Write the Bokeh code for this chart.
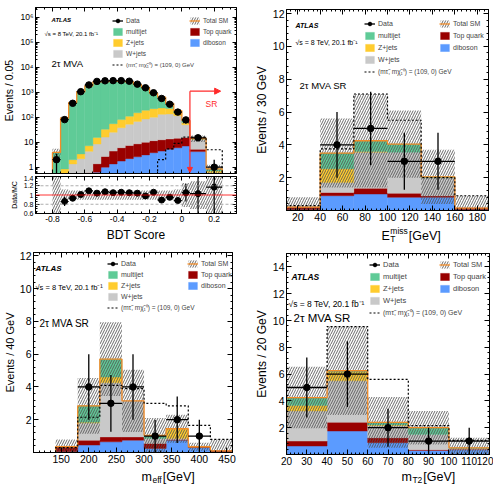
import numpy as np
from bokeh.plotting import figure
from bokeh.layouts import row, column
from bokeh.models import (FixedTicker, LinearAxis, LogAxis, Range1d, Legend,
                          LegendItem, Label, Arrow, NormalHead,
                          CustomJSTickFormatter, Span)
from bokeh.embed import file_html
from bokeh.resources import INLINE

FONT = "Liberation Sans"

# ======================= DATA =======================
# ---- panel 1: BDT score (2tau MVA) ----
bdt_edges = [-0.80, -0.75, -0.70, -0.65, -0.60, -0.55, -0.50, -0.45, -0.40, -0.35,
             -0.30, -0.25, -0.20, -0.15, -0.10, -0.05, 0.00, 0.05, 0.15, 0.25]
bdt_data = [2, 80, 360, 1050, 1950, 2700, 2850, 2900, 2900, 2750,
            2100, 1500, 950, 560, 330, 160, 78, 15, 1]
bdt_diboson = [0.005, 0.01, 0.05, 0.1, 0.25, 0.63, 1.0, 1.35, 1.75, 2.2,
               2.6, 3.1, 3.8, 4.4, 5.2, 6.0, 7.0, 4.2, 0.3]
bdt_top = [0.005, 0.02, 0.05, 0.2, 0.35, 0.74, 1.7, 3.05, 4.25, 5.2,
           6.0, 6.9, 7.7, 8.1, 8.3, 8.5, 8.5, 1.0, 0.15]
bdt_wjets = [0.04, 0.37, 1.25, 1.9, 3.7, 7.1, 13.3, 20.6, 32.0, 44.6,
             59.4, 75.0, 88.5, 117.5, 121.5, 100.5, 34.5, 7.8, 0.15]
bdt_zjets = [0.05, 0.45, 0.65, 1.2, 2.9, 7.0, 17.0, 30.0, 42.0, 58.0,
             82.0, 105.0, 120.0, 105.0, 90.0, 35.0, 12.0, 0.8, 0.1]
bdt_multijet = [3.8, 92, 381, 1037, 1783, 2584, 2627, 2705, 2660, 2510,
                1870, 1340, 680, 395, 125, 32, 12, 0.6, 0.16]
bdt_unc_rel = [0.40, 0.12, 0.10, 0.10, 0.10, 0.10, 0.10, 0.10, 0.10, 0.10,
               0.10, 0.10, 0.10, 0.10, 0.10, 0.12, 0.26, 0.30, 0.45]
bdt_signal = [0.05, 0.05, 0.05, 0.05, 0.05, 0.05, 0.05, 0.05, 0.05, 0.05,
              0.05, 0.05, 0.3, 2.0, 5.4, 9.0, 16.0, 16.0, 5.0]
bdt_ratio = [float("nan"), 0.86, 0.93, 1.01, 1.09, 1.04, 1.07, 1.05, 1.06, 1.05,
             1.04, 0.98, 1.06, 0.89, 0.95, 0.88, 1.05, 1.03, 1.17]
bdt_ratio_err = [float("nan"), 0.10, 0.06, 0.03, 0.03, 0.02, 0.02, 0.02, 0.02, 0.02,
                 0.02, 0.03, 0.03, 0.04, 0.05, 0.07, 0.19, 0.45, 1.0]
sr_cut = 0.05

# ---- panel 2: missing ET ----
met_edges = [10, 40, 70, 100, 130, 160, 190]
met_data = [0, 4, 5, 3, 3, 0]
met_diboson = [0.05, 0.9, 1.0, 0.8, 0.8, 0.05]
met_top = [0.15, 0.2, 0.35, 0.25, 0.1, 0.1]
met_wjets = [0.0, 0.6, 2.2, 2.5, 1.1, 0.0]
met_zjets = [0.0, 0.85, 0.05, 0.0, 0.0, 0.0]
met_multijet = [0.0, 0.95, 0.65, 0.5, 0.05, 0.0]
met_unc = [0.6, 2.1, 2.85, 2.05, 1.65, 0.75]
met_signal = [0.3, 3.75, 7.1, 5.5, 2.0, 0.9]

# ---- panel 3: m_eff ----
meff_edges = [140, 180, 220, 260, 300, 340, 380, 420, 460]
meff_data = [0, 4, 3, 4, 1, 2, 1, 0]
meff_diboson = [0.05, 0.45, 0.65, 0.75, 0.25, 0.75, 0.3, 0.05]
meff_top = [0.3, 0.3, 0.3, 0.2, 0.3, 0.05, 0.05, 0.05]
meff_wjets = [0.0, 1.05, 3.3, 2.2, 0.3, 0.05, 0.0, 0.0]
meff_zjets = [0.0, 0.05, 0.35, 0.0, 0.0, 0.6, 0.0, 0.0]
meff_multijet = [0.0, 1.0, 1.1, 0.0, 0.2, 0.0, 0.0, 0.0]
meff_unc = [0.45, 1.7, 2.25, 1.9, 1.05, 0.85, 0.25, 0.7]
meff_signal = [0.3, 2.15, 4.1, 3.9, 3.0, 2.85, 1.65, 0.8]

# ---- panel 4: m_T2 ----
mt2_edges = [20, 40, 60, 80, 100, 120]
mt2_data = [5, 6, 2, 1, 1]
mt2_diboson = [0.63, 1.75, 0.88, 0.3, 0.35]
mt2_top = [0.37, 0.65, 0.37, 0.05, 0.05]
mt2_wjets = [2.25, 3.1, 0.9, 1.15, 0.05]
mt2_zjets = [0.4, 0.65, 0.05, 0.0, 0.0]
mt2_multijet = [0.6, 0.1, 0.2, 0.5, 0.05]
mt2_unc = [2.3, 3.3, 1.9, 1.25, 0.75]
mt2_signal = [5.0, 9.55, 5.6, 2.15, 1.05]

# ---- ticks ----
bdt_ticks = [-0.8, -0.6, -0.4, -0.2, 0.0, 0.2]
bdt_tick_labels = ["-0.8", "-0.6", "-0.4", "-0.2", "0", "0.2"]
log_ticks = [1, 10, 100, 1e3, 1e4, 1e5, 1e6]
log_tick_labels = ["1", "10", "10\u00b2", "10\u00b3", "10\u2074", "10\u2075", "10\u2076"]
ratio_ticks = [0.6, 0.8, 1.0, 1.2, 1.4]
ratio_tick_labels = ["0.6", "0.8", "1", "1.2", "1.4"]
met_ticks = [20, 40, 60, 80, 100, 120, 140, 160, 180]
meff_ticks = [150, 200, 250, 300, 350, 400, 450]
mt2_ticks = [20, 30, 40, 50, 60, 70, 80, 90, 100, 110, 120]
y12_ticks = [2, 4, 6, 8, 10, 12]
y14_ticks = [2, 4, 6, 8, 10, 12, 14]

# ======================= STYLE =======================
STACK = ["diboson", "top", "wjets", "zjets", "multijet"]
COLORS = {"multijet": "#5FCB97", "zjets": "#FFCC2E", "wjets": "#C9C9C9",
          "top": "#990000", "diboson": "#5B9BFF"}
ORANGE = "#F28C28"
HATCH = "#505050"
RED = "#FF2A2A"
SIG_LABEL = "(m\u03c4\u0303, m\u03c7\u0303\u2081\u2070) = (109, 0) GeV"


def fmt(vals, labels):
    return CustomJSTickFormatter(args=dict(tv=list(vals), tl=list(labels)), code="""
        for (let i = 0; i < tv.length; i++) {
            if (Math.abs(tick - tv[i]) <= 1e-9 * Math.max(1, Math.abs(tv[i]))) return tl[i];
        }
        return '';""")


def minor(lo, hi, step, majors):
    vals = np.arange(lo, hi + step / 2, step)
    return [float(round(v, 6)) for v in vals if all(abs(v - m) > step / 10 for m in majors)]


def style_axis(ax, tl, px, show):
    ax.major_tick_in = tl
    ax.major_tick_out = 0
    ax.minor_tick_in = max(1, tl // 2)
    ax.minor_tick_out = 0
    ax.axis_line_color = "black"
    ax.major_tick_line_color = "black"
    ax.minor_tick_line_color = "black"
    if show:
        ax.major_label_text_font = FONT
        ax.major_label_text_font_size = f"{px}px"
        ax.major_label_text_color = "black"
        ax.major_label_standoff = 2
    else:
        ax.major_label_text_font_size = "0px"
        ax.major_label_standoff = 0
        ax.formatter = CustomJSTickFormatter(code="return '';")


def setup_axes(p, xt, xm, yt, ym, xfmt=None, yfmt=None, show_x=True, show_y=True,
               log_y=False, tl=5, xpx=10.5, ypx=10.5):
    ax = p.below[0]
    ax.ticker = FixedTicker(ticks=list(xt), minor_ticks=list(xm))
    style_axis(ax, tl, xpx, show_x)
    if show_x and xfmt is not None:
        ax.formatter = xfmt
    ay = p.left[0]
    ay.ticker = FixedTicker(ticks=list(yt), minor_ticks=list(ym))
    style_axis(ay, tl, ypx, show_y)
    if show_y and yfmt is not None:
        ay.formatter = yfmt
    top = LinearAxis(ticker=FixedTicker(ticks=list(xt), minor_ticks=list(xm)))
    style_axis(top, tl, 0, False)
    p.add_layout(top, "above")
    right = (LogAxis if log_y else LinearAxis)(ticker=FixedTicker(ticks=list(yt), minor_ticks=list(ym)))
    style_axis(right, tl, 0, False)
    p.add_layout(right, "right")


def ylabel(p, text, px, standoff=2):
    ay = p.left[0]
    ay.axis_label = text
    ay.axis_label_text_font = FONT
    ay.axis_label_text_font_size = f"{px}px"
    ay.axis_label_text_font_style = "normal"
    ay.axis_label_text_color = "black"
    ay.axis_label_standoff = standoff


def make_fig(w, h, xr, yr, ml, mr, mt, mb, log=False):
    p = figure(width=w, height=h, x_range=xr, y_range=yr,
               y_axis_type="log" if log else "linear",
               output_backend="svg", toolbar_location=None,
               min_border_left=ml, min_border_right=mr,
               min_border_top=mt, min_border_bottom=mb)
    p.xgrid.visible = False
    p.ygrid.visible = False
    p.outline_line_color = "black"
    p.outline_line_width = 1
    p.outline_line_alpha = 1
    p.background_fill_color = "white"
    p.border_fill_color = "white"
    return p


def make_strip(w, h):
    s = figure(width=w, height=h, x_range=Range1d(0, w), y_range=Range1d(0, h),
               output_backend="svg", toolbar_location=None,
               x_axis_location=None, y_axis_location=None,
               min_border_left=0, min_border_right=0, min_border_top=0, min_border_bottom=0)
    s.xgrid.visible = False
    s.ygrid.visible = False
    s.outline_line_color = None
    s.background_fill_color = "white"
    s.border_fill_color = "white"
    return s


def step(edges, vals, base):
    xs, ys = [edges[0]], [base]
    for i, v in enumerate(vals):
        xs += [edges[i], edges[i + 1]]
        ys += [v, v]
    xs.append(edges[-1])
    ys.append(base)
    return xs, ys


def draw_hist(p, edges, comps, unc_abs, data, signal, base):
    e = np.asarray(edges, float)
    lefts, rights = e[:-1], e[1:]
    centers = 0.5 * (lefts + rights)
    cum = np.full(len(lefts), base)
    rend = {}
    for name in STACK:
        vals = np.asarray(comps[name], float)
        top = cum + vals
        m = vals > 0
        rend[name] = p.quad(left=lefts[m], right=rights[m], bottom=cum[m], top=top[m],
                            fill_color=COLORS[name], line_color=COLORS[name], line_width=0.4)
        cum = top
    total = cum
    unc = np.asarray(unc_abs, float)
    lo = np.maximum(total - unc, base)
    hi = total + unc
    rend["band"] = p.quad(left=lefts, right=rights, bottom=lo, top=hi,
                          fill_color=None, line_color=None, hatch_pattern="/",
                          hatch_color=HATCH, hatch_scale=5, hatch_weight=0.85)
    xs, ys = step(list(e), list(total), base)
    rend["total"] = p.line(xs, ys, line_color=ORANGE, line_width=1.3)
    sx, sy = step(list(e), list(signal), base)
    rend["signal"] = p.line(sx, sy, line_color="black", line_width=1.2, line_dash="2 2")
    d = np.asarray(data, float)
    m = d > 0
    err = np.sqrt(d)
    dlo = np.maximum(d - err, base)
    dhi = d + err
    rend["dx"] = p.segment(x0=lefts[m], x1=rights[m], y0=d[m], y1=d[m],
                           line_color="black", line_width=1.3)
    rend["dy"] = p.segment(x0=centers[m], x1=centers[m], y0=dlo[m], y1=dhi[m],
                           line_color="black", line_width=1.3)
    rend["dp"] = p.scatter(centers[m], d[m], size=6.5, color="black")
    return rend


def add_legends(p, frame_h, r, x1, x2, row1, sp, fs, gh=9, gw=11):
    pitch = gh + sp
    top = row1 - gh / 2

    def mk(items, x, top_off, size):
        n = len(items)
        h = n * gh + (n - 1) * sp
        lg = Legend(items=items, location=(x, frame_h - top_off - h), orientation="vertical",
                    glyph_width=gw, glyph_height=gh, label_height=gh, label_width=5,
                    label_standoff=3, spacing=sp, padding=0, margin=0,
                    border_line_color=None, background_fill_alpha=0,
                    label_text_font=FONT, label_text_font_size=f"{size}px")
        p.add_layout(lg)

    mk([LegendItem(label="Data", renderers=[r["dx"], r["dp"]]),
        LegendItem(label="multijet", renderers=[r["multijet"]]),
        LegendItem(label="Z+jets", renderers=[r["zjets"]]),
        LegendItem(label="W+jets", renderers=[r["wjets"]])], x1, top, fs)
    mk([LegendItem(label="Total SM", renderers=[r["band"], r["total"]]),
        LegendItem(label="Top quark", renderers=[r["top"]]),
        LegendItem(label="diboson", renderers=[r["diboson"]])], x2, top, fs)
    mk([LegendItem(label=SIG_LABEL, renderers=[r["signal"]])], x1, top + 4 * pitch, fs - 0.5)


def txt(p, x, y, text, px, style="normal", color="black", align="left", baseline="middle"):
    p.add_layout(Label(x=x, y=y, x_units="screen", y_units="screen", text=text,
                       text_font=FONT, text_font_size=f"{px}px", text_font_style=style,
                       text_color=color, text_align=align, text_baseline=baseline))


AW = {"E": 0.667, "m": 0.833, "i": 0.222, "s": 0.5, "e": 0.556, "f": 0.278,
      "T": 0.611, "2": 0.556}


def tw(s, px):
    return sum(AW.get(c, 0.556) for c in s) * px


def xtitle(s, x0, y0, main, sup, sub, big=12.5, small=8.5):
    txt(s, x0, y0, main, big, baseline="alphabetic")
    xs = x0 + tw(main, big) + 0.5
    w = 0
    if sup:
        txt(s, xs, y0 + 5, sup, small, baseline="alphabetic")
        w = max(w, tw(sup, small))
    if sub:
        txt(s, xs, y0 - 3, sub, small, baseline="alphabetic")
        w = max(w, tw(sub, small))
    txt(s, xs + w + 1, y0, "[GeV]", big, baseline="alphabetic")


def labels_block(p, fh, atlas_xy, atlas_px, rs_xy, rs_px, mva_xy, mva_px, mva_text):
    txt(p, atlas_xy[0], fh - atlas_xy[1], "ATLAS", atlas_px, style="bold italic")
    txt(p, rs_xy[0], fh - rs_xy[1], "\u221as = 8 TeV, 20.1 fb\u207b\u00b9", rs_px)
    txt(p, mva_xy[0], fh - mva_xy[1], mva_text, mva_px)


# ======================= PANEL 1 (BDT) =======================
bdt_comps = {"diboson": bdt_diboson, "top": bdt_top, "wjets": bdt_wjets,
             "zjets": bdt_zjets, "multijet": bdt_multijet}
bdt_total = np.sum([np.asarray(bdt_comps[k], float) for k in STACK], axis=0)
BASE_LOG = 1e-3

p1 = make_fig(246, 175, Range1d(-0.905, 0.338), Range1d(0.56, 2.44e6), 29, 10, 7, 2, log=True)
r1 = draw_hist(p1, bdt_edges, bdt_comps, bdt_total * np.asarray(bdt_unc_rel),
               bdt_data, bdt_signal, BASE_LOG)
log_minor = [k * 10.0 ** ex for ex in range(-1, 7) for k in range(2, 10)]
setup_axes(p1, bdt_ticks, minor(-0.9, 0.35, 0.05, bdt_ticks), log_ticks, log_minor,
           yfmt=fmt(log_ticks, log_tick_labels), show_x=False, log_y=True, tl=4, ypx=8.5)
ylabel(p1, "Events / 0.05", 10.5, 2)
p1.add_layout(Arrow(x_start=sr_cut, y_start=1100, x_end=0.24, y_end=1100,
                    line_color=RED, line_width=1.2,
                    end=NormalHead(size=6, fill_color=RED, line_color=RED)))
p1.add_layout(Arrow(x_start=sr_cut, y_start=1100, x_end=sr_cut, y_end=0.62,
                    line_color=RED, line_width=1.2,
                    end=NormalHead(size=5, fill_color=RED, line_color=RED)))
txt(p1, 176, 70, "SR", 8.5, color=RED, align="center")
add_legends(p1, 166, r1, 77, 154, 13.5, 2, 6.5)
labels_block(p1, 166, (16, 12.3), 6, (9, 26), 6, (16, 56), 9.5, "2\u03c4 MVA")

# ratio
p1r = make_fig(246, 69, p1.x_range, Range1d(0.6, 1.4), 29, 10, 1, 27)
e = np.asarray(bdt_edges, float)
rl, rr = e[:-1], e[1:]
rc = 0.5 * (rl + rr)
ur = np.asarray(bdt_unc_rel, float)
p1r.quad(left=rl, right=rr, bottom=1 - ur, top=1 + ur, fill_color=None, line_color=None,
         hatch_pattern="/", hatch_color=HATCH, hatch_scale=5, hatch_weight=0.85)
for lv in (0.8, 1.2):
    p1r.add_layout(Span(location=lv, dimension="width", line_color="#999999",
                        line_dash="3 2", line_width=0.8))
p1r.add_layout(Span(location=1.0, dimension="width", line_color="#FF0000", line_width=0.8))
rv = np.asarray(bdt_ratio, float)
re_ = np.asarray(bdt_ratio_err, float)
mk = ~np.isnan(rv)
p1r.segment(x0=rl[mk], x1=rr[mk], y0=rv[mk], y1=rv[mk], line_color="black", line_width=1.2)
p1r.segment(x0=rc[mk], x1=rc[mk], y0=rv[mk] - re_[mk], y1=rv[mk] + re_[mk],
            line_color="black", line_width=1.2)
p1r.scatter(rc[mk], rv[mk], size=6, color="black")
setup_axes(p1r, bdt_ticks, minor(-0.9, 0.35, 0.05, bdt_ticks), ratio_ticks,
           minor(0.6, 1.4, 0.05, ratio_ticks), xfmt=fmt(bdt_ticks, bdt_tick_labels),
           yfmt=fmt(ratio_ticks, ratio_tick_labels), tl=4, xpx=8.5, ypx=7)
ylabel(p1r, "Data/MC", 7, 3)
bx = p1r.below[0]
bx.axis_label = "BDT Score"
bx.axis_label_text_font = FONT
bx.axis_label_text_font_size = "12px"
bx.axis_label_text_font_style = "normal"
bx.axis_label_text_color = "black"
bx.axis_label_standoff = 3

# ======================= PANEL 2 (MET) =======================
p2 = make_fig(247, 224, Range1d(10, 190), Range1d(0, 12.25), 40, 5, 9, 14)
r2 = draw_hist(p2, met_edges, {"diboson": met_diboson, "top": met_top, "wjets": met_wjets,
                               "zjets": met_zjets, "multijet": met_multijet},
               met_unc, met_data, met_signal, 0.0)
setup_axes(p2, met_ticks, minor(10, 190, 4, met_ticks), y12_ticks,
           minor(0, 12.2, 0.4, y12_ticks), tl=5, xpx=10.5, ypx=10.5)
ylabel(p2, "Events / 30 GeV", 12, 1)
add_legends(p2, 201, r2, 78, 153, 14.3, 3, 7)
labels_block(p2, 201, (9, 16), 7, (9, 32.7), 7, (13, 76), 9.5, "2\u03c4 MVA SR")
s2 = make_strip(247, 20)
xtitle(s2, 95, 9, "E", "miss", "T")

# ======================= PANEL 3 (meff) =======================
p3 = make_fig(246, 222, Range1d(100, 460), Range1d(0, 12.2), 29, 14, 8, 14)
r3 = draw_hist(p3, meff_edges, {"diboson": meff_diboson, "top": meff_top, "wjets": meff_wjets,
                                "zjets": meff_zjets, "multijet": meff_multijet},
               meff_unc, meff_data, meff_signal, 0.0)
setup_axes(p3, meff_ticks, minor(100, 460, 10, meff_ticks), y12_ticks,
           minor(0, 12.2, 0.4, y12_ticks), tl=5, xpx=10.5, ypx=10.5)
ylabel(p3, "Events / 40 GeV", 11, 1)
add_legends(p3, 200, r3, 74, 154, 11.3, 2, 7)
labels_block(p3, 200, (2, 16), 8, (2, 34.7), 7.5, (6, 71), 10, "2\u03c4 MVA SR")
s3 = make_strip(246, 22)
xtitle(s3, 108, 11.3, "m", None, "eff")

# ======================= PANEL 4 (mT2) =======================
p4 = make_fig(247, 224, Range1d(20, 120), Range1d(0, 15), 40, 4, 9, 14)
r4 = draw_hist(p4, mt2_edges, {"diboson": mt2_diboson, "top": mt2_top, "wjets": mt2_wjets,
                               "zjets": mt2_zjets, "multijet": mt2_multijet},
               mt2_unc, mt2_data, mt2_signal, 0.0)
setup_axes(p4, mt2_ticks, minor(20, 120, 2, mt2_ticks), y14_ticks,
           minor(0, 15, 0.4, y14_ticks), tl=5, xpx=10, ypx=10.5)
ylabel(p4, "Events / 20 GeV", 12, 1)
add_legends(p4, 201, r4, 83, 153, 11, 3, 7.5)
labels_block(p4, 201, (5, 23.7), 8.5, (2, 50), 8.5, (7, 64.3), 11.5, "2\u03c4 MVA SR")
s4 = make_strip(247, 20)
xtitle(s4, 115, 11.3, "m", None, "T2")

layout = column(row(column(p1, p1r), column(p2, s2)),
                row(column(p3, s3), column(p4, s4)))
open("out.html", "w").write(file_html(layout, INLINE))
